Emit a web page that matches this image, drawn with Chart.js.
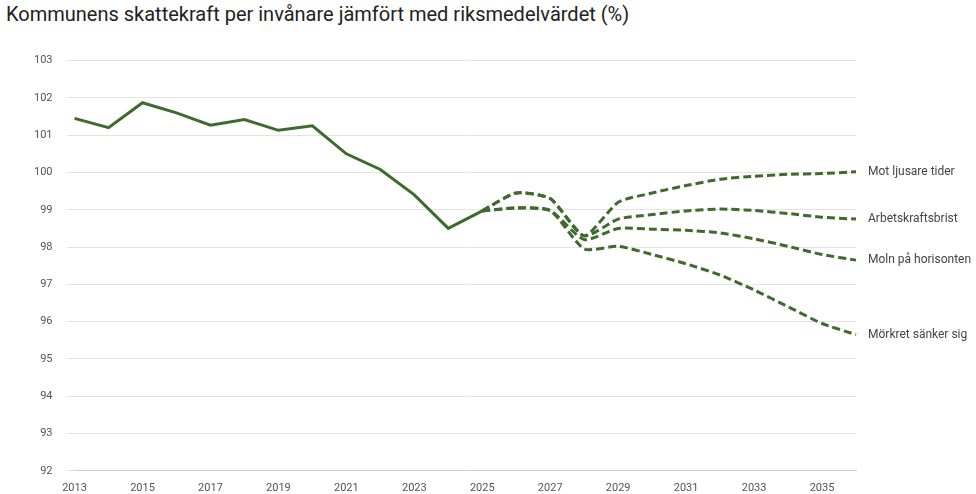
<!DOCTYPE html>
<html><head><meta charset="utf-8">
<script src="https://cdn.jsdelivr.net/npm/chart.js@4"></script>
<style>body{margin:0;background:#fff}#w{width:976px;height:494px;position:relative}
h1{position:absolute;left:6px;top:2px;margin:0;font:400 20px Roboto,sans-serif;color:#222}
#c{position:absolute;left:0;top:40px}</style></head><body>
<div id="w"><h1>Kommunens skattekraft per invånare jämfört med riksmedelvärdet (%)</h1><canvas id="c" width="976" height="454"></canvas></div>
<script>
const years=[];for(let y=2013;y<=2036;y++)years.push(String(y));
const historic=[101.45,101.2,101.87,101.6,101.27,101.42,101.13,101.25,100.5,100.08,99.4,98.5,98.97];
const ljusare=[98.97,99.45,99.3,98.3,99.2,99.45,99.65,99.82,99.9,99.95,99.97,100.02];
const arbets=[98.97,99.45,99.3,98.3,98.75,98.87,98.97,99.02,98.98,98.9,98.8,98.75];
const moln=[98.97,99.05,98.98,98.2,98.5,98.48,98.45,98.38,98.22,98.02,97.8,97.65];
const morkret=[98.97,99.05,98.98,97.95,98.02,97.8,97.55,97.25,96.85,96.4,95.95,95.65];
const names=["Mot ljusare tider","Arbetskraftsbrist","Moln på horisonten","Mörkret sänker sig"];
const pad=a=>Array(12).fill(null).concat(a);
const col='#3e6b2c';
const ds=[{data:historic,borderColor:col,borderWidth:3,pointRadius:0,tension:0}];
[ljusare,arbets,moln,morkret].forEach((a,i)=>ds.push({label:names[i],data:pad(a),borderColor:col,borderWidth:3,borderDash:[8,4],pointRadius:0,tension:0.2}));
const labelPlugin={id:'lbl',afterDatasetsDraw(ch){const c=ch.ctx;c.save();c.font='12px Roboto, sans-serif';c.fillStyle='#444';c.textBaseline='middle';
for(let i=1;i<ch.data.datasets.length;i++){const m=ch.getDatasetMeta(i);const p=m.data[m.data.length-1];c.fillText(ch.data.datasets[i].label,p.x+12,p.y);}c.restore();}};
new Chart(document.getElementById('c'),{type:'line',data:{labels:years,datasets:ds},plugins:[labelPlugin],
options:{responsive:false,animation:false,layout:{padding:{left:20,right:120,top:10,bottom:-4}},
plugins:{legend:{display:false},tooltip:{enabled:false}},
scales:{x:{grid:{display:false},border:{color:'#ccc'},ticks:{autoSkip:false,maxRotation:0,color:'#555',font:{family:'Roboto',size:11},callback:(v,i)=>i%2===0?years[i]:''}},
y:{min:92,max:103,grid:{color:'#e4e4e4'},border:{display:false},ticks:{stepSize:1,color:'#555',font:{family:'Roboto',size:11},padding:14}}}}});
</script></body></html>
